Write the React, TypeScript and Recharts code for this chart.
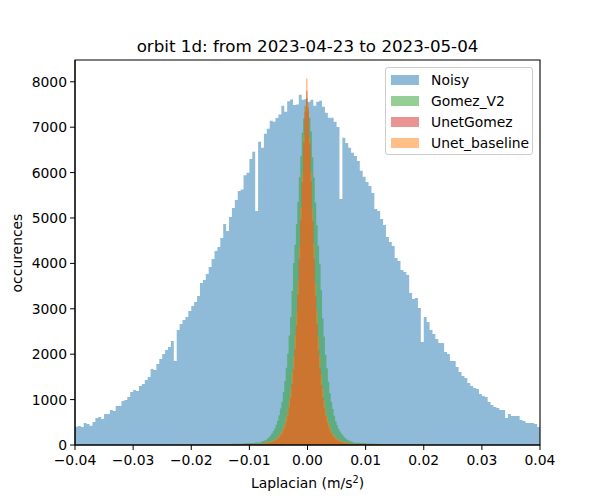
import { ComposedChart, Area, XAxis, YAxis, ReferenceArea } from "recharts";

const FONT = "DejaVu Sans";

// Noisy: 160 bins of 0.0005 from -0.04 to 0.04
const noisyStart = -0.04;
const noisyBin = 0.0005;
const noisyCounts = [
  404, 419, 397, 485, 463, 426, 507, 595, 617, 573,
  683, 683, 771, 749, 859, 859, 970, 992, 1058, 1168,
  1212, 1190, 1300, 1344, 1432, 1498, 1675, 1653, 1785, 1895,
  2005, 2093, 2160, 2292, 1851, 2534, 2666, 2754, 2821, 2953,
  3063, 3151, 3283, 3570, 3636, 3768, 3922, 4099, 4275, 4363,
  4561, 4870, 4716, 5024, 5220, 5399, 5597, 5630, 5940, 5994,
  6302, 6457, 5156, 6677, 6545, 6853, 6963, 7140, 7118, 7200,
  7280, 7470, 7338, 7570, 7610, 7490, 7500, 7713, 7602, 7620,
  7560, 7602, 7470, 7558, 7580, 7448, 7316, 7206, 7206, 7118,
  7007, 5421, 6765, 6650, 6545, 6435, 6368, 6258, 6040, 5906,
  5795, 5707, 5553, 5200, 5156, 4980, 4848, 4583, 4473, 4385,
  4121, 4055, 3856, 3812, 3746, 3350, 3217, 3239, 3019, 2270,
  2821, 2710, 2534, 2446, 2336, 2248, 2248, 2049, 2005, 1851,
  1851, 1719, 1609, 1520, 1476, 1366, 1300, 1256, 1234, 1124,
  1080, 1058, 948, 881, 837, 815, 771, 771, 595, 683,
  639, 639, 639, 551, 529, 485, 485, 485, 463, 397,
];

// narrow series: 12 tail bins of 0.001, 64 core bins of 0.00025, 12 tail bins of 0.001
const narrowEdges = [
  ...Array.from({ length: 12 }, (_, i) => -0.02 + i * 0.001),
  ...Array.from({ length: 64 }, (_, i) => -0.008 + i * 0.00025),
  ...Array.from({ length: 12 }, (_, i) => 0.008 + i * 0.001),
  0.02,
];

const gomezV2Counts = [
  8, 9, 11, 13, 15, 18, 21, 25, 30, 37, 45, 57,
  75, 88, 101, 118, 142, 173, 212, 254, 303, 365, 445, 535, 655, 805, 955, 1160,
  1410, 1700, 2010, 2410, 2820, 3390, 4010, 4410, 4860, 5360, 5900, 6360, 6880, 7190, 7460, 7650,
  7440, 7210, 6910, 6340, 5890, 5340, 4840, 4390, 3990, 3410, 2790, 2390, 1990, 1690, 1395, 1140,
  945, 795, 645, 525, 436, 356, 297, 247, 208, 168, 139, 114, 98, 84, 72, 61,
  52, 42, 34, 28, 23, 19, 16, 13, 11, 9, 8, 7,
];

const unetGomezCounts = [
  4, 5, 6, 6, 7, 8, 9, 10, 12, 14, 17, 20,
  26, 29, 33, 37, 42, 48, 56, 65, 77, 92, 110, 132, 163, 203, 248, 315,
  390, 505, 635, 825, 1035, 1340, 1670, 2110, 2640, 3310, 4090, 4960, 5790, 6660, 7340, 7800,
  7360, 6640, 5810, 4940, 4110, 3290, 2660, 2090, 1690, 1320, 1045, 815, 645, 495, 400, 305,
  252, 198, 158, 128, 106, 89, 75, 63, 54, 46, 40, 35, 31, 27, 24, 22,
  19, 16, 14, 12, 10, 9, 8, 7, 6, 5, 5, 4,
];

const unetBaselineCounts = [
  6, 7, 8, 9, 10, 12, 13, 15, 17, 20, 24, 28,
  36, 41, 45, 53, 58, 70, 76, 92, 103, 128, 148, 184, 216, 275, 326, 415,
  505, 648, 795, 1010, 1250, 1595, 1940, 2420, 2930, 3620, 4380, 5230, 5980, 6830, 7480, 8070,
  7520, 6770, 6020, 5170, 4420, 3580, 2970, 2380, 1960, 1565, 1270, 990, 805, 632, 515, 405,
  335, 266, 224, 177, 152, 122, 107, 88, 79, 66, 61, 51, 47, 39, 36, 31,
  27, 23, 19, 17, 15, 13, 11, 10, 9, 8, 7, 6,
];

const xTicks = [-0.04, -0.03, -0.02, -0.01, 0, 0.01, 0.02, 0.03, 0.04];
const yTicks = [0, 1000, 2000, 3000, 4000, 5000, 6000, 7000, 8000];

const series = [
  { key: "noisy", name: "Noisy", color: "#1f77b4", legend: "#8fbbd9" },
  { key: "gomezV2", name: "Gomez_V2", color: "#2ca02c", legend: "#95cf95" },
  { key: "unetGomez", name: "UnetGomez", color: "#d62728", legend: "#ea9393" },
  { key: "unetBaseline", name: "Unet_baseline", color: "#ff7f0e", legend: "#ffbf86" },
];

type Row = { x: number; [k: string]: number };

function buildRows() {
  const rows = new Map<number, Row>();
  const put = (x: number, key: string, v: number) => {
    const id = Math.round(x * 1e7);
    let r = rows.get(id);
    if (!r) {
      r = { x: id / 1e7 };
      rows.set(id, r);
    }
    r[key] = v;
  };
  noisyCounts.forEach((v, i) => put(noisyStart + i * noisyBin, "noisy", v));
  put(noisyStart + noisyCounts.length * noisyBin, "noisy", noisyCounts[noisyCounts.length - 1]);
  const narrow: [string, number[]][] = [
    ["gomezV2", gomezV2Counts],
    ["unetGomez", unetGomezCounts],
    ["unetBaseline", unetBaselineCounts],
  ];
  narrow.forEach(([key, counts]) => {
    narrowEdges.forEach((x, i) => put(x, key, counts[Math.min(i, counts.length - 1)]));
  });
  return [...rows.values()].sort((a, b) => a.x - b.x);
}

const data = buildRows();

const fmtX = (v: number) => (v < 0 ? "\u2212" : "") + Math.abs(v).toFixed(2);
const tickStyle = { fill: "#000", fontSize: 13.9, fontFamily: FONT };

export default function App() {
  return (
    <div style={{ position: "absolute", left: 0, top: 0, width: 600, height: 500, background: "#fff", fontFamily: FONT }}>
      <ComposedChart width={600} height={500} data={data} margin={{ top: 60, right: 60, bottom: 0, left: 0 }}>
        <XAxis
          dataKey="x"
          type="number"
          domain={[-0.04, 0.04]}
          allowDataOverflow
          ticks={xTicks}
          tickFormatter={fmtX}
          tick={tickStyle}
          tickSize={5}
          tickMargin={5}
          height={55}
          stroke="#000"
        />
        <YAxis
          type="number"
          domain={[0, 8480]}
          allowDataOverflow
          ticks={yTicks}
          tick={tickStyle}
          tickSize={5}
          tickMargin={3}
          width={75}
          stroke="#000"
        />
        {series.map((s) => (
          <Area
            key={s.key}
            type="stepAfter"
            dataKey={s.key}
            fill={s.color}
            fillOpacity={0.5}
            stroke="none"
            connectNulls
            dot={false}
            activeDot={false}
            isAnimationActive={false}
          />
        ))}
        <ReferenceArea x1={-0.04} x2={0.04} y1={0} y2={8480} fill="none" stroke="#000" strokeWidth={1.1} />
      </ComposedChart>

      <div style={{ position: "absolute", left: 0, width: 615, top: 36, lineHeight: "20px", fontSize: 16.7, textAlign: "center", color: "#000" }}>
        orbit 1d: from 2023-04-23 to 2023-05-04
      </div>
      <div style={{ position: "absolute", left: 0, width: 615, top: 475, lineHeight: "16px", fontSize: 13.9, textAlign: "center", color: "#000" }}>
        Laplacian (m/s<sup style={{ fontSize: 9.7, verticalAlign: "5px", lineHeight: 0 }}>2</sup>)
      </div>
      <div
        style={{
          position: "absolute",
          left: -43,
          top: 245,
          width: 120,
          height: 16,
          lineHeight: "16px",
          fontSize: 13.9,
          textAlign: "center",
          transform: "rotate(-90deg)",
          color: "#000",
        }}
      >
        occurences
      </div>

      <div
        style={{
          position: "absolute",
          left: 385,
          top: 67,
          width: 148,
          height: 88,
          boxSizing: "border-box",
          border: "1px solid #cccccc",
          borderRadius: 3,
          background: "rgba(255,255,255,0.8)",
        }}
      >
        {series.map((s, i) => (
          <div key={s.key} style={{ position: "absolute", left: 0, top: 2 + i * 21, height: 20, display: "flex", alignItems: "center" }}>
            <span style={{ display: "inline-block", marginLeft: 5, width: 28, height: 10, background: s.legend }} />
            <span style={{ marginLeft: 12, fontSize: 13.9, color: "#000", whiteSpace: "nowrap" }}>{s.name}</span>
          </div>
        ))}
      </div>
    </div>
  );
}
